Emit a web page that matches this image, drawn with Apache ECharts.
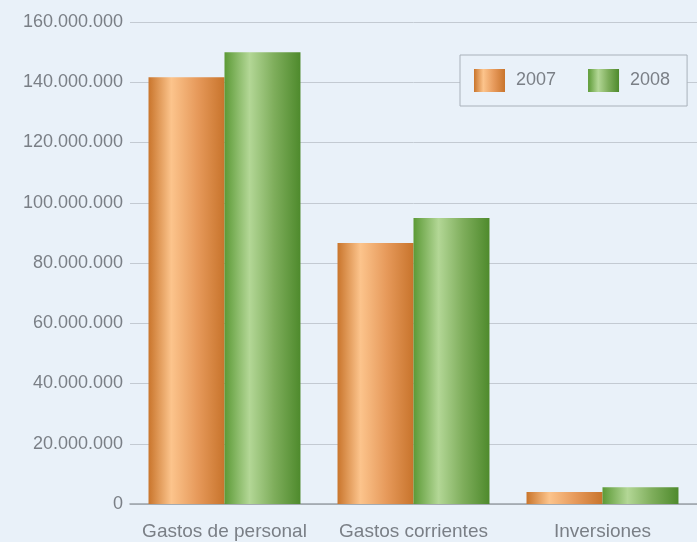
<!DOCTYPE html>
<html><head><meta charset="utf-8">
<script src="https://cdn.jsdelivr.net/npm/echarts@6/dist/echarts.min.js"></script>
<style>html,body{margin:0;padding:0;background:#e9f1f9;}#c{width:697px;height:542px;}</style>
</head><body><div id="c"></div>
<script>
const categories = ['Gastos de personal', 'Gastos corrientes', 'Inversiones'];
const seriesNames = ['2007', '2008'];
const values2007 = [141700000, 86600000, 4000000];
const values2008 = [150000000, 94900000, 5600000];
const yTicks = [0, 20000000, 40000000, 60000000, 80000000, 100000000, 120000000, 140000000, 160000000];

const orangeGrad = new echarts.graphic.LinearGradient(0, 0, 1, 0, [
  {offset: 0, color: '#c9752c'},
  {offset: 0.3, color: '#fcc48c'},
  {offset: 0.65, color: '#e6995a'},
  {offset: 1, color: '#c8742c'}
]);
const greenGrad = new echarts.graphic.LinearGradient(0, 0, 1, 0, [
  {offset: 0, color: '#5c9a36'},
  {offset: 0.33, color: '#b3d796'},
  {offset: 0.65, color: '#7fae5c'},
  {offset: 1, color: '#4e8a2c'}
]);

function fmt(v){ return String(v).replace(/\B(?=(\d{3})+(?!\d))/g, '.'); }

const chart = echarts.init(document.getElementById('c'), null, {renderer: 'canvas'});
chart.setOption({
  backgroundColor: '#e9f1f9',
  animation: false,
  textStyle: {fontFamily: 'Liberation Sans'},
  grid: {left: 130, right: 0, top: 22, bottom: 38, containLabel: false},
  legend: {
    left: 460, top: 55,
    data: seriesNames,
    itemWidth: 31, itemHeight: 23, itemGap: 32,
    padding: [14, 17, 14, 14],
    borderColor: '#a9b1ba', borderWidth: 1,
    backgroundColor: '#e9f1f9',
    icon: 'rect',
    textStyle: {color: '#7a7f86', fontSize: 18, padding: [0, 0, 0, 6], fontFamily: 'Liberation Sans'}
  },
  xAxis: {
    type: 'category', data: categories,
    axisLine: {lineStyle: {color: '#9aa1a8', width: 1.5}},
    axisTick: {show: false},
    axisLabel: {color: '#7a7f86', fontSize: 19, margin: 18, interval: 0, fontFamily: 'Liberation Sans'}
  },
  yAxis: {
    type: 'value', min: yTicks[0], max: yTicks[yTicks.length - 1], interval: 20000000,
    axisLine: {show: false}, axisTick: {show: false},
    splitLine: {lineStyle: {color: '#c3cad2', width: 1}},
    axisLabel: {color: '#7a7f86', fontSize: 18, margin: 7, formatter: fmt, fontFamily: 'Liberation Sans'}
  },
  series: [
    {name: seriesNames[0], type: 'bar', data: values2007, barGap: '0%', barCategoryGap: '19.6%',
     itemStyle: {color: orangeGrad}},
    {name: seriesNames[1], type: 'bar', data: values2008, barGap: '0%', barCategoryGap: '19.6%',
     itemStyle: {color: greenGrad}}
  ]
});
</script></body></html>
